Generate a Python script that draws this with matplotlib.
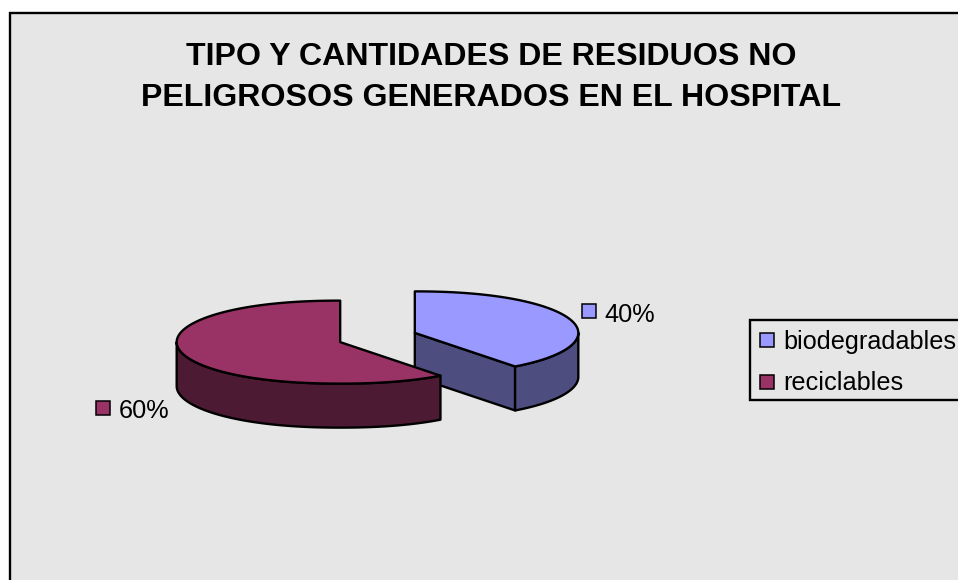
"""Exploded 3D-style pie of non-hazardous hospital waste, spreadsheet look."""
import matplotlib
matplotlib.use("Agg")
import matplotlib.pyplot as plt
import numpy as np
from matplotlib.patches import Polygon, Rectangle

TITLE = "TIPO Y CANTIDADES DE RESIDUOS NO\nPELIGROSOS GENERADOS EN EL HOSPITAL"
categories = ["biodegradables", "reciclables"]
values = [40, 60]
colors = ["#9999ff", "#993366"]
side_colors = ["#4d4d80", "#4d1a33"]

plt.rcParams["font.family"] = ["Liberation Sans", "DejaVu Sans"]

W, H = 958, 580
RX, RY, DEPTH = 163.5, 41.5, 44
CX, CY = 377.5, 337.5
EXPLODE = 0.24
LW = 1.7
FS = 18.2


def rim(cx, cy, a0, a1, dy=0):
    # angles are clockwise from 12 o'clock, in degrees; slightly squarer than an ellipse
    t = np.radians(np.linspace(a0, a1, 120))
    sx = np.sign(np.sin(t)) * np.abs(np.sin(t)) ** 0.92
    return np.column_stack([cx + RX * sx, cy - RY * np.cos(t) + dy])


def draw_slice(ax, a0, a1, color, side):
    mid = np.radians((a0 + a1) / 2)
    cx = CX + EXPLODE * RX * np.sin(mid)
    cy = CY - EXPLODE * RY * 1.5 * np.cos(mid)
    apex = np.array([[cx, cy]])

    # cut faces that look towards the viewer
    for a in (a0, a1):
        if 0 < a % 360 < 180 and a == a1:
            edge = rim(cx, cy, a, a)[:1]
            face = np.vstack([apex, edge, edge + [0, DEPTH], apex + [0, DEPTH]])
            ax.add_patch(Polygon(face, fc=side, ec="black", lw=LW, joinstyle="round"))

    # outer wall, only the front half of the ellipse is visible
    lo, hi = max(a0, 90), min(a1, 270)
    if lo < hi:
        top = rim(cx, cy, lo, hi)
        wall = np.vstack([top, top[::-1] + [0, DEPTH]])
        ax.add_patch(Polygon(wall, fc=side, ec="black", lw=LW, joinstyle="round"))

    surface = np.vstack([apex, rim(cx, cy, a0, a1)])
    ax.add_patch(Polygon(surface, fc=color, ec="black", lw=LW, joinstyle="round"))


def swatch(ax, x, y, color):
    ax.add_patch(Rectangle((x, y), 14, 14, fc=color, ec="black", lw=1.1, zorder=5))


fig = plt.figure(figsize=(W / 100, H / 100), dpi=100, facecolor="white")
ax = fig.add_axes([0, 0, 1, 1])
ax.set_xlim(0, W)
ax.set_ylim(H, 0)
ax.axis("off")

ax.add_patch(Rectangle((10.5, 12.5), W + 20, H + 20, fc="#e6e6e6", ec="black", lw=LW))

ax.text(491.5, 77.5, TITLE, ha="center", va="center", fontsize=23.1, fontweight="bold",
        linespacing=1.5, color="black")

shares = np.array(values) / sum(values)
edges = np.concatenate([[0], np.cumsum(shares) * 360])
for i in range(len(values)):
    draw_slice(ax, edges[i], edges[i + 1], colors[i], side_colors[i])

# data labels
label_pos = [(582.5, 304), (96.5, 400.5)]
for (x, y), color, share in zip(label_pos, colors, shares):
    swatch(ax, x, y, color)
    ax.text(x + 22, y + 11, f"{share * 100:.0f}%", ha="left", va="center", fontsize=FS)

# legend, runs off the right edge like the source image
ax.add_patch(Rectangle((750.5, 319.5), W, 80.5, fc="#e6e6e6", ec="black", lw=LW, zorder=4))
for i, (name, color) in enumerate(zip(categories, colors)):
    y = 332.5 + i * 42
    swatch(ax, 760.5, y, color)
    ax.text(783, y + 9, name, ha="left", va="center", fontsize=FS, zorder=5)

fig.savefig("out.png", dpi=100)
plt.close(fig)
